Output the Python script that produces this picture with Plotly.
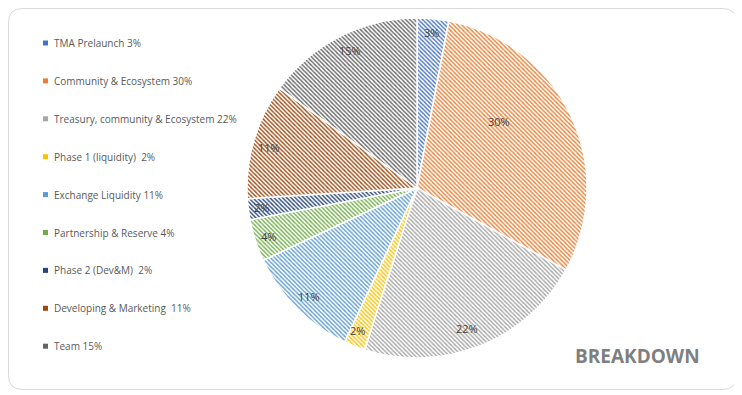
import math
import plotly.graph_objects as go

labels = ["TMA Prelaunch 3%", "Community & Ecosystem 30%", "Treasury, community & Ecosystem 22%",
          "Phase 1 (liquidity)  2%", "Exchange Liquidity 11%", "Partnership & Reserve 4%",
          "Phase 2 (Dev&M)  2%", "Developing & Marketing  11%", "Team 15%"]
values = [3, 30, 22, 2, 11, 4, 2, 11, 15]
colors = ["#4472C4", "#ED7D31", "#A5A5A5", "#FFC000", "#5B9BD5", "#70AD47", "#264478", "#9E480E", "#636363"]

# data-label placement (fraction of radius, angular tweak in degrees)
label_radius = [0.92, 0.62, 0.88, 0.91, 0.9, 0.92, 0.92, 0.9, 0.9]
label_shift = [0, -14, 2, 1, 0, 0, 0, -1, 1]

OFF = 8  # page body margin
W, H = 742 - OFF, 395 - OFF

def px(x):
    return (x - OFF) / W

def py(y):
    return 1 - (y - OFF) / H

cx, cy, r = 417, 188, 170

fig = go.Figure()
fig.add_trace(go.Pie(
    labels=labels, values=values, sort=False, direction="clockwise", rotation=0,
    marker=dict(colors=colors, line=dict(color="white", width=1.5),
                pattern=dict(shape="\\", fgcolor=colors, bgcolor="white", fillmode="replace",
                             size=3, solidity=0.45)),
    textinfo="none", showlegend=False, hoverinfo="label+percent",
    domain=dict(x=[px(cx - r), px(cx + r)], y=[py(cy + r), py(cy - r)]),
))

annotations = []
total = sum(values)
cum = 0
for v, rf, sh in zip(values, label_radius, label_shift):
    ang = math.radians((cum + v / 2) / total * 360 + sh)
    cum += v
    lx = cx + rf * r * math.sin(ang)
    ly = cy - rf * r * math.cos(ang)
    annotations.append(dict(x=px(lx), y=py(ly), xref="paper", yref="paper",
                            text=f"{round(v / total * 100)}%", showarrow=False,
                            xanchor="center", yanchor="middle",
                            font=dict(family="Open Sans", size=11, color="#404040")))

shapes = []
x0, y0, x1, y1, rad = px(8.5), py(8.5), px(736.5), py(389.5), 14
rx, ry = rad / W, rad / H
path = (f"M {x0+rx},{y0} L {x1-rx},{y0} Q {x1},{y0} {x1},{y0-ry} L {x1},{y1+ry} "
        f"Q {x1},{y1} {x1-rx},{y1} L {x0+rx},{y1} Q {x0},{y1} {x0},{y1+ry} L {x0},{y0-ry} Q {x0},{y0} {x0+rx},{y0} Z")
shapes.append(dict(type="path", xref="paper", yref="paper", path=path,
                   line=dict(color="#D9D9D9", width=1), layer="below"))

ly0, lstep = 43, 37.9
for i, (lab, col) in enumerate(zip(labels, colors)):
    yy = ly0 + i * lstep
    shapes.append(dict(type="rect", xref="paper", yref="paper",
                       x0=px(43), x1=px(48), y0=py(yy - 2.5), y1=py(yy + 2.5),
                       fillcolor=col, line=dict(width=0)))
    annotations.append(dict(x=px(52), y=py(yy), xref="paper", yref="paper", text=lab,
                            showarrow=False, xanchor="left", yanchor="middle",
                            font=dict(family="Open Sans", size=10, color="#595959")))

annotations.append(dict(x=px(637), y=py(356), xref="paper", yref="paper", text="<b>BREAKDOWN</b>",
                        showarrow=False, xanchor="center", yanchor="middle",
                        font=dict(family="Open Sans", size=19, color="#7F7F7F")))

fig.update_layout(width=W, height=H, margin=dict(l=0, r=0, t=0, b=0),
                  paper_bgcolor="white", plot_bgcolor="white",
                  shapes=shapes, annotations=annotations)

fig.write_html("out.html")
